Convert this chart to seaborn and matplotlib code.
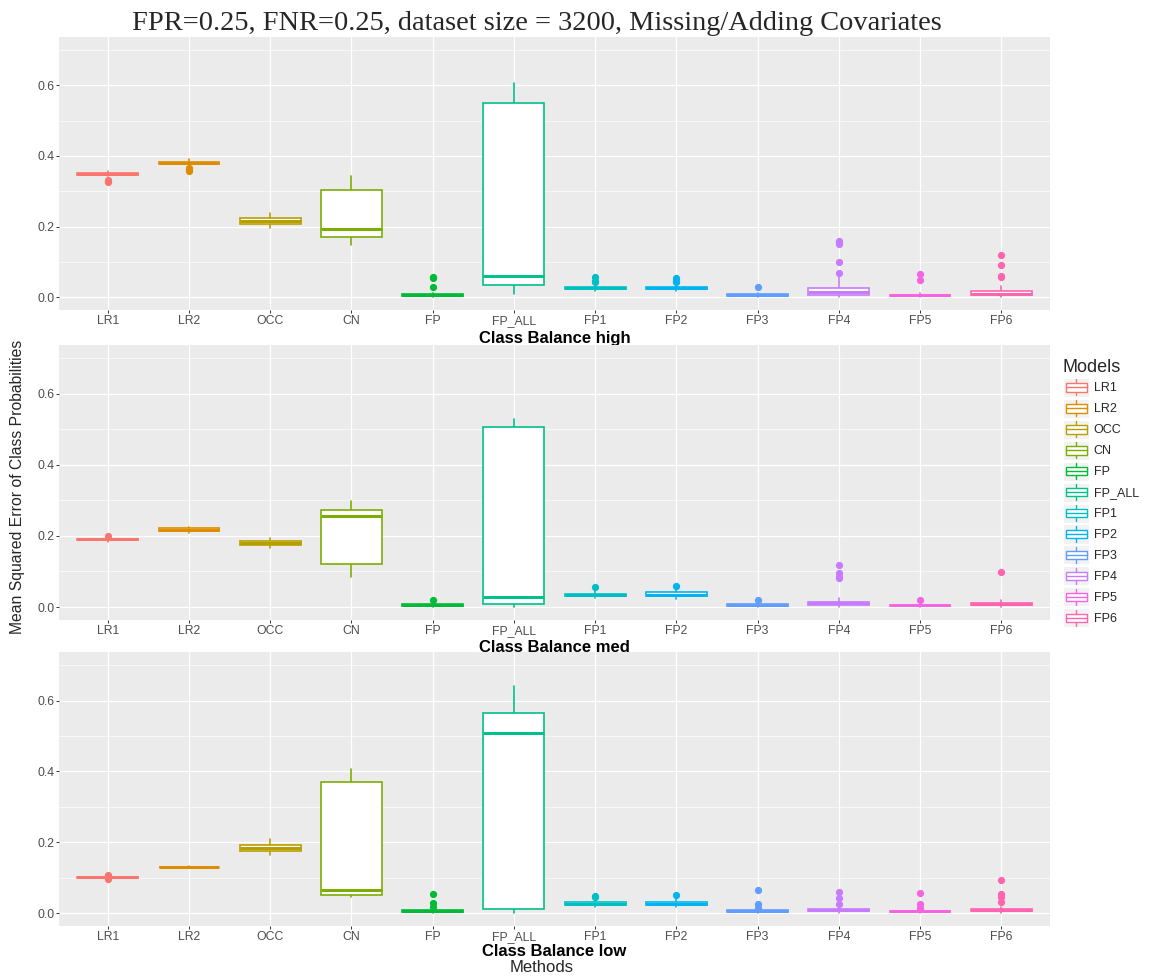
import matplotlib
matplotlib.use("Agg")
import matplotlib.pyplot as plt
import seaborn as sns
from matplotlib.legend_handler import HandlerBase
from matplotlib.patches import Rectangle
from matplotlib.lines import Line2D

# ---------------- data ----------------
methods = ["LR1", "LR2", "OCC", "CN", "FP", "FP_ALL", "FP1", "FP2", "FP3", "FP4", "FP5", "FP6"]
palette = ["#F8766D", "#DE8C00", "#B79F00", "#7CAE00", "#00BA38", "#00C08B",
           "#00BFC4", "#00B4F0", "#619CFF", "#C77CFF", "#F564E3", "#FF64B0"]
panel_titles = ["Class Balance high", "Class Balance med", "Class Balance low"]
y_ticks = [0.0, 0.2, 0.4, 0.6]

high_lo  = [0.343, 0.374, 0.196, 0.149, 0.000, 0.008, 0.017, 0.017, 0.000, 0.000, 0.000, 0.000]
high_q1  = [0.347, 0.378, 0.206, 0.169, 0.003, 0.033, 0.022, 0.023, 0.003, 0.005, 0.002, 0.005]
high_med = [0.350, 0.381, 0.216, 0.193, 0.005, 0.061, 0.025, 0.026, 0.005, 0.014, 0.005, 0.009]
high_q3  = [0.353, 0.383, 0.223, 0.303, 0.008, 0.549, 0.028, 0.029, 0.008, 0.026, 0.007, 0.016]
high_hi  = [0.358, 0.390, 0.238, 0.344, 0.012, 0.607, 0.035, 0.036, 0.012, 0.060, 0.012, 0.032]
high_out = [[0.333, 0.330, 0.327], [0.367, 0.362, 0.358], [], [], [0.058, 0.055, 0.029], [],
            [0.057, 0.046, 0.043], [0.055, 0.046, 0.042], [0.029],
            [0.069, 0.099, 0.150, 0.155, 0.158], [0.066, 0.049], [0.057, 0.060, 0.091, 0.118]]

med_lo  = [0.182, 0.208, 0.165, 0.084, 0.000, 0.000, 0.025, 0.022, 0.000, 0.000, 0.000, 0.000]
med_q1  = [0.188, 0.215, 0.175, 0.122, 0.003, 0.008, 0.031, 0.030, 0.003, 0.005, 0.003, 0.005]
med_med = [0.190, 0.218, 0.179, 0.255, 0.006, 0.028, 0.034, 0.035, 0.006, 0.010, 0.005, 0.008]
med_q3  = [0.192, 0.221, 0.185, 0.272, 0.008, 0.507, 0.038, 0.041, 0.008, 0.015, 0.007, 0.012]
med_hi  = [0.197, 0.225, 0.194, 0.297, 0.016, 0.530, 0.045, 0.052, 0.015, 0.025, 0.012, 0.020]
med_out = [[0.200], [], [], [], [0.019], [], [0.057], [0.059], [0.019],
           [0.081, 0.085, 0.097, 0.118], [0.019], [0.099]]

low_lo  = [0.099, 0.128, 0.163, 0.045, 0.000, 0.000, 0.017, 0.016, 0.000, 0.000, 0.000, 0.000]
low_q1  = [0.100, 0.129, 0.175, 0.050, 0.003, 0.011, 0.022, 0.022, 0.003, 0.005, 0.003, 0.005]
low_med = [0.102, 0.130, 0.183, 0.064, 0.005, 0.507, 0.026, 0.026, 0.005, 0.008, 0.005, 0.008]
low_q3  = [0.103, 0.131, 0.193, 0.369, 0.008, 0.566, 0.030, 0.031, 0.008, 0.011, 0.007, 0.012]
low_hi  = [0.105, 0.132, 0.210, 0.406, 0.012, 0.641, 0.037, 0.040, 0.012, 0.017, 0.012, 0.018]
low_out = [[0.108, 0.096], [], [], [], [0.055, 0.028, 0.016], [], [0.048, 0.044], [0.050],
           [0.066, 0.027, 0.015], [0.059, 0.043, 0.027], [0.056, 0.027, 0.015],
           [0.092, 0.054, 0.046, 0.030]]

panels = [
    (high_lo, high_q1, high_med, high_q3, high_hi, high_out),
    (med_lo, med_q1, med_med, med_q3, med_hi, med_out),
    (low_lo, low_q1, low_med, low_q3, low_hi, low_out),
]

# ---------------- style ----------------
sns.set_theme(style="darkgrid")
plt.rcParams["font.family"] = ["Liberation Sans", "DejaVu Sans"]
plt.rcParams["axes.facecolor"] = "#EBEBEB"
plt.rcParams["grid.color"] = "white"

fig = plt.figure(figsize=(11.52, 9.76), dpi=100)
W, H = 1152.0, 976.0
left_px, right_px = 59, 1050
panel_px = [(37, 310), (345, 620), (652, 926)]
label_px = [338, 648, 952]
ylim = (-0.0365, 0.737)

box_lw = 1.2
for (top, bot), lab_y, title, data in zip(panel_px, label_px, panel_titles, panels):
    ph = bot - top
    ax = fig.add_axes([left_px / W, 1 - bot / H, (right_px - left_px) / W, ph / H])
    lo, q1, md, q3, hi, out = data
    stats = []
    for i in range(len(methods)):
        stats.append(dict(whislo=lo[i], q1=q1[i], med=md[i], q3=q3[i], whishi=hi[i],
                          fliers=out[i], label=methods[i]))
    bp = ax.bxp(stats, positions=range(len(methods)), widths=0.75, patch_artist=True,
                showcaps=False, showfliers=True, manage_ticks=False)
    for i, c in enumerate(palette):
        bp["boxes"][i].set(facecolor="white", edgecolor=c, linewidth=box_lw, zorder=3)
        bp["medians"][i].set(color=c, linewidth=box_lw * 1.8, zorder=4, solid_capstyle="butt")
        for w in bp["whiskers"][2 * i: 2 * i + 2]:
            w.set(color=c, linewidth=box_lw, zorder=2)
        bp["fliers"][i].set(marker="o", markerfacecolor=c, markeredgecolor=c,
                            markersize=4.2, linestyle="none", zorder=5)
    ax.set_xlim(-0.6, len(methods) - 0.4)
    ax.set_ylim(*ylim)
    ax.set_xticks(range(len(methods)))
    ax.set_xticklabels(methods)
    ax.set_yticks(y_ticks)
    ax.set_yticklabels([f"{v:.1f}" for v in y_ticks])
    ax.set_yticks([0.1, 0.3, 0.5, 0.7], minor=True)
    ax.grid(True, which="major", color="white", linewidth=0.9)
    ax.grid(True, which="minor", axis="y", color="white", linewidth=0.45)
    ax.set_axisbelow(True)
    ax.tick_params(axis="both", which="major", bottom=True, left=True, length=2.5, width=0.7,
                   color="#333333", labelsize=8.8, labelcolor="#4D4D4D", pad=0.8)
    ax.tick_params(axis="y", which="minor", left=False)
    for s in ax.spines.values():
        s.set_visible(False)
    ax.set_xlabel(title, fontsize=12, fontweight="bold", color="black")
    ax.xaxis.label.set_va("center")
    ax.xaxis.set_label_coords(0.5, -(lab_y - bot) / ph)
    ax.set_ylabel("")

# titles
fig.text(537 / W, 1 - 24 / H, "FPR=0.25, FNR=0.25, dataset size = 3200, Missing/Adding Covariates",
         family=["Liberation Serif", "DejaVu Serif"], fontsize=20.4, ha="center", va="center")
fig.text(542 / W, 1 - 967 / H, "Methods", fontsize=12, ha="center", va="center")
fig.text(18 / W, 1 - 487 / H, "Mean Squared Error of Class Probabilities",
         fontsize=11.3, rotation=90, ha="center", va="center")


# legend with boxplot keys
class BoxKey(HandlerBase):
    def create_artists(self, legend, orig_handle, xdescent, ydescent, width, height, fontsize, trans):
        c = orig_handle.get_edgecolor()
        x0, y0 = -xdescent, -ydescent
        bg = Rectangle((x0, y0), width, height, facecolor="#F2F2F2",
                       edgecolor="white", linewidth=0.8, transform=trans)
        cy = y0 + 0.5 * height
        bh = height * 0.45
        box = Rectangle((x0 + 0.1 * width, cy - bh / 2), 0.8 * width, bh, facecolor="white",
                        edgecolor=c, linewidth=1.0, transform=trans)
        med = Line2D([x0 + 0.1 * width, x0 + 0.9 * width], [cy, cy], color=c, linewidth=1.0,
                     transform=trans)
        w1 = Line2D([x0 + 0.5 * width] * 2, [cy + bh / 2, y0 + 0.92 * height], color=c,
                    linewidth=1.0, transform=trans)
        w2 = Line2D([x0 + 0.5 * width] * 2, [cy - bh / 2, y0 + 0.08 * height], color=c,
                    linewidth=1.0, transform=trans)
        return [bg, box, med, w1, w2]


handles = [Rectangle((0, 0), 1, 1, edgecolor=c, facecolor="white") for c in palette]
leg = fig.legend(handles, methods, handler_map={Rectangle: BoxKey()},
                 loc="upper left", bbox_to_anchor=(1063 / W, 1 - 359 / H),
                 frameon=False, fontsize=9, title="Models", title_fontsize=13,
                 handlelength=2.1, handleheight=1.97, labelspacing=0.15, handletextpad=0.35,
                 borderpad=0.0, borderaxespad=0.0, alignment="left")

fig.savefig("out.png", dpi=100)
